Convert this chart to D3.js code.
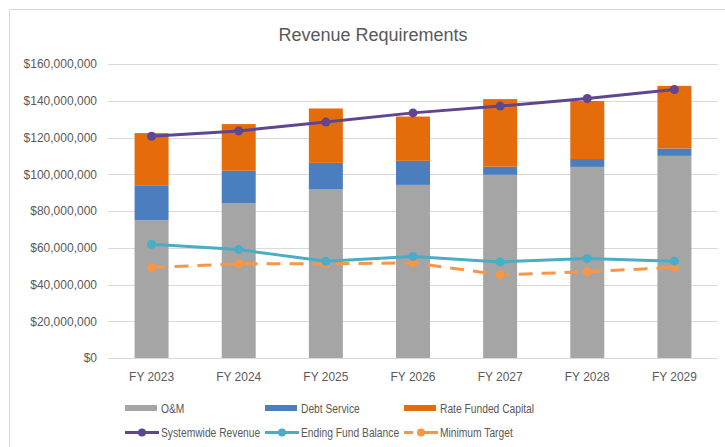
<!DOCTYPE html>
<html>
<head>
<meta charset="utf-8">
<script src="https://cdn.jsdelivr.net/npm/d3@7"></script>
<style>
  body { margin: 0; background: #fff; }
  text { font-family: "Liberation Sans", Arial, sans-serif; fill: #595959; }
</style>
</head>
<body>
<div id="chart"></div>
<script>
// values
var years = ["FY 2023", "FY 2024", "FY 2025", "FY 2026", "FY 2027", "FY 2028", "FY 2029"];
var om = [75000000, 84200000, 91700000, 94200000, 99700000, 104000000, 110000000];
var debtService = [19000000, 17700000, 14500000, 13100000, 4400000, 4300000, 4000000];
var rateFundedCapital = [28400000, 25400000, 29600000, 24100000, 36800000, 31600000, 34100000];
var systemwide = [120700000, 123600000, 128400000, 133400000, 137100000, 141200000, 146100000];
var endingBalance = [61900000, 59000000, 52600000, 55300000, 52300000, 54200000, 52700000];
var minTarget = [49200000, 51300000, 51200000, 51800000, 45300000, 46900000, 49400000];
var yTicks = [0, 20000000, 40000000, 60000000, 80000000, 100000000, 120000000, 140000000, 160000000];

var W = 725, H = 447;
var margin = {top: 64, right: 7, bottom: 89, left: 108};
var width = W - margin.left - margin.right,
    height = H - margin.top - margin.bottom;
var squeeze = 0.79; // Calibri-ish narrow text

var svg = d3.select("#chart").append("svg")
  .attr("width", W).attr("height", H);

// chart frame
svg.append("rect")
  .attr("x", 9.5).attr("y", 9.5)
  .attr("width", W + 20).attr("height", H + 20)
  .attr("fill", "none").attr("stroke", "#d9d9d9");

svg.append("text")
  .attr("x", 373).attr("y", 41)
  .attr("text-anchor", "middle")
  .style("font-size", "18px")
  .text("Revenue Requirements");

var g = svg.append("g")
  .attr("transform", "translate(" + margin.left + "," + margin.top + ")");

var x = d3.scaleBand().domain(years).range([0, width]).paddingInner(0.61).paddingOuter(0.305);
var y = d3.scaleLinear().domain([0, 160000000]).range([height, 0]);

// gridlines
g.selectAll(".grid").data(yTicks).enter().append("line")
  .attr("x1", 0).attr("x2", width)
  .attr("y1", d => Math.round(y(d)) + 0.5).attr("y2", d => Math.round(y(d)) + 0.5)
  .attr("stroke", "#d9d9d9").attr("stroke-width", 1);

var yAxis = g.append("g")
  .call(d3.axisLeft(y).tickValues(yTicks).tickSize(0).tickPadding(11)
    .tickFormat(d => "$" + d3.format(",")(d)));
yAxis.select(".domain").remove();
yAxis.selectAll("text").style("font-size", "12px").style("fill", "#595959")
  .style("font-family", "Liberation Sans, Arial, sans-serif");

var xAxis = g.append("g")
  .attr("transform", "translate(0," + height + ")")
  .call(d3.axisBottom(x).tickSize(0).tickPadding(14));
xAxis.select(".domain").remove();
xAxis.selectAll("text")
  .attr("transform", "scale(0.92,1)")
  .style("font-size", "13px").style("fill", "#595959")
  .style("font-family", "Liberation Sans, Arial, sans-serif");

// stacked bars
var stackKeys = ["om", "debt", "cap"];
var colors = {om: "#a5a5a5", debt: "#4a7ebf", cap: "#e46c0a"};
var rows = years.map(function(yr, i) {
  return {year: yr, om: om[i], debt: debtService[i], cap: rateFundedCapital[i]};
});
var stacked = d3.stack().keys(stackKeys)(rows);

g.selectAll(".layer").data(stacked).enter().append("g")
  .attr("fill", d => colors[d.key])
  .selectAll("rect").data(d => d).enter().append("rect")
  .attr("x", d => x(d.data.year))
  .attr("width", x.bandwidth())
  .attr("y", d => y(d[1]))
  .attr("height", d => y(d[0]) - y(d[1]));

// lines
var cx = d => x(d.year) + x.bandwidth() / 2;
var lineSeries = [
  {name: "Systemwide Revenue", values: systemwide, color: "#5f4690", dash: null},
  {name: "Ending Fund Balance", values: endingBalance, color: "#4bacc6", dash: null},
  {name: "Minimum Target", values: minTarget, color: "#f79646", dash: "14,9"}
];

var line = d3.line().x(cx).y(d => y(d.v));

// draw minimum target first so the others sit over it
[lineSeries[2], lineSeries[1], lineSeries[0]].forEach(function(s) {
  var pts = years.map((yr, i) => ({year: yr, v: s.values[i]}));
  g.append("path").datum(pts)
    .attr("fill", "none")
    .attr("stroke", s.color)
    .attr("stroke-width", 3)
    .attr("stroke-dasharray", s.dash)
    .attr("d", line);
  g.selectAll(null).data(pts).enter().append("circle")
    .attr("cx", cx).attr("cy", d => y(d.v))
    .attr("r", 4.5).attr("fill", s.color);
});

// legend
var leg = svg.append("g");
function legText(tx, ty, label) {
  leg.append("text")
    .attr("transform", "translate(" + tx + "," + ty + ") scale(" + squeeze + ",1)")
    .style("font-size", "13px")
    .text(label);
}
var barLeg = [
  {name: "O&M", color: colors.om, x: 125},
  {name: "Debt Service", color: colors.debt, x: 265},
  {name: "Rate Funded Capital", color: colors.cap, x: 404}
];
barLeg.forEach(function(d) {
  leg.append("rect").attr("x", d.x).attr("y", 405).attr("width", 32).attr("height", 6).attr("fill", d.color);
  legText(d.x + 36, 412.5, d.name);
});
var lineLegX = [125, 265, 404];
lineSeries.forEach(function(s, i) {
  var lx = lineLegX[i];
  leg.append("line").attr("x1", lx).attr("x2", lx + 34).attr("y1", 432.5).attr("y2", 432.5)
    .attr("stroke", s.color).attr("stroke-width", 3)
    .attr("stroke-dasharray", s.dash ? "9,5,20" : null);
  leg.append("circle").attr("cx", lx + 17).attr("cy", 432.5).attr("r", 4).attr("fill", s.color);
  legText(lx + 36, 437, s.name);
});
</script>
</body>
</html>
